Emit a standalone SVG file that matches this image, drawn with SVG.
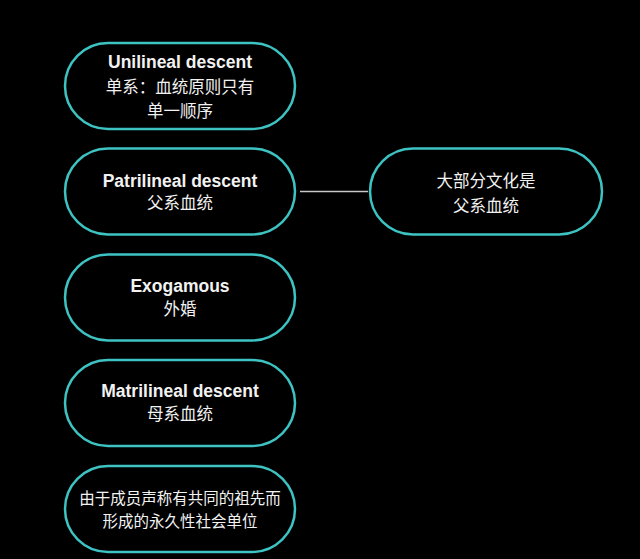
<svg xmlns="http://www.w3.org/2000/svg" width="640" height="559" viewBox="0 0 640 559">
<style>
.node{fill:#000;stroke:#3ec3c3;stroke-width:2.5}
.en{font-family:"Liberation Sans",Arial,sans-serif;font-weight:bold;font-size:17.5px;fill:#f2f2f2;text-anchor:middle}
.zh{font-family:"Noto Sans CJK SC",sans-serif;font-size:16.5px;fill:#f2f2f2;text-anchor:middle}
.zs{font-family:"Noto Sans CJK SC",sans-serif;font-size:15.5px;fill:#f2f2f2;text-anchor:middle}
.conn{stroke:#c8c8c8;stroke-width:1.5;fill:none}
</style>
<rect width="640" height="559" fill="#000"/>
<g id="connectors">
<line class="conn" x1="300" y1="191.5" x2="368" y2="191.5"/>
</g>
<g id="node-unilineal">
<rect class="node" x="65" y="43" width="230" height="86" rx="43"/>
<text class="en" x="180" y="68">Unilineal descent</text>
<text class="zh" x="180" y="93">单系：血统原则只有</text>
<text class="zh" x="180" y="117">单一顺序</text>
</g>
<g id="node-patrilineal">
<rect class="node" x="65" y="148.5" width="230" height="86" rx="43"/>
<text class="en" x="180" y="187">Patrilineal descent</text>
<text class="zh" x="180" y="209">父系血统</text>
</g>
<g id="node-most">
<rect class="node" x="370" y="148.5" width="232" height="86" rx="43"/>
<text class="zh" x="486" y="187">大部分文化是</text>
<text class="zh" x="486" y="212">父系血统</text>
</g>
<g id="node-exogamous">
<rect class="node" x="65" y="254.5" width="230" height="86" rx="43"/>
<text class="en" x="180" y="292">Exogamous</text>
<text class="zh" x="180" y="315">外婚</text>
</g>
<g id="node-matrilineal">
<rect class="node" x="65" y="360" width="230" height="86" rx="43"/>
<text class="en" x="180" y="397">Matrilineal descent</text>
<text class="zh" x="180" y="420">母系血统</text>
</g>
<g id="node-unit">
<rect class="node" x="65" y="466" width="230" height="86" rx="43"/>
<text class="zs" x="180" y="504">由于成员声称有共同的祖先而</text>
<text class="zs" x="180" y="527">形成的永久性社会单位</text>
</g>
</svg>
